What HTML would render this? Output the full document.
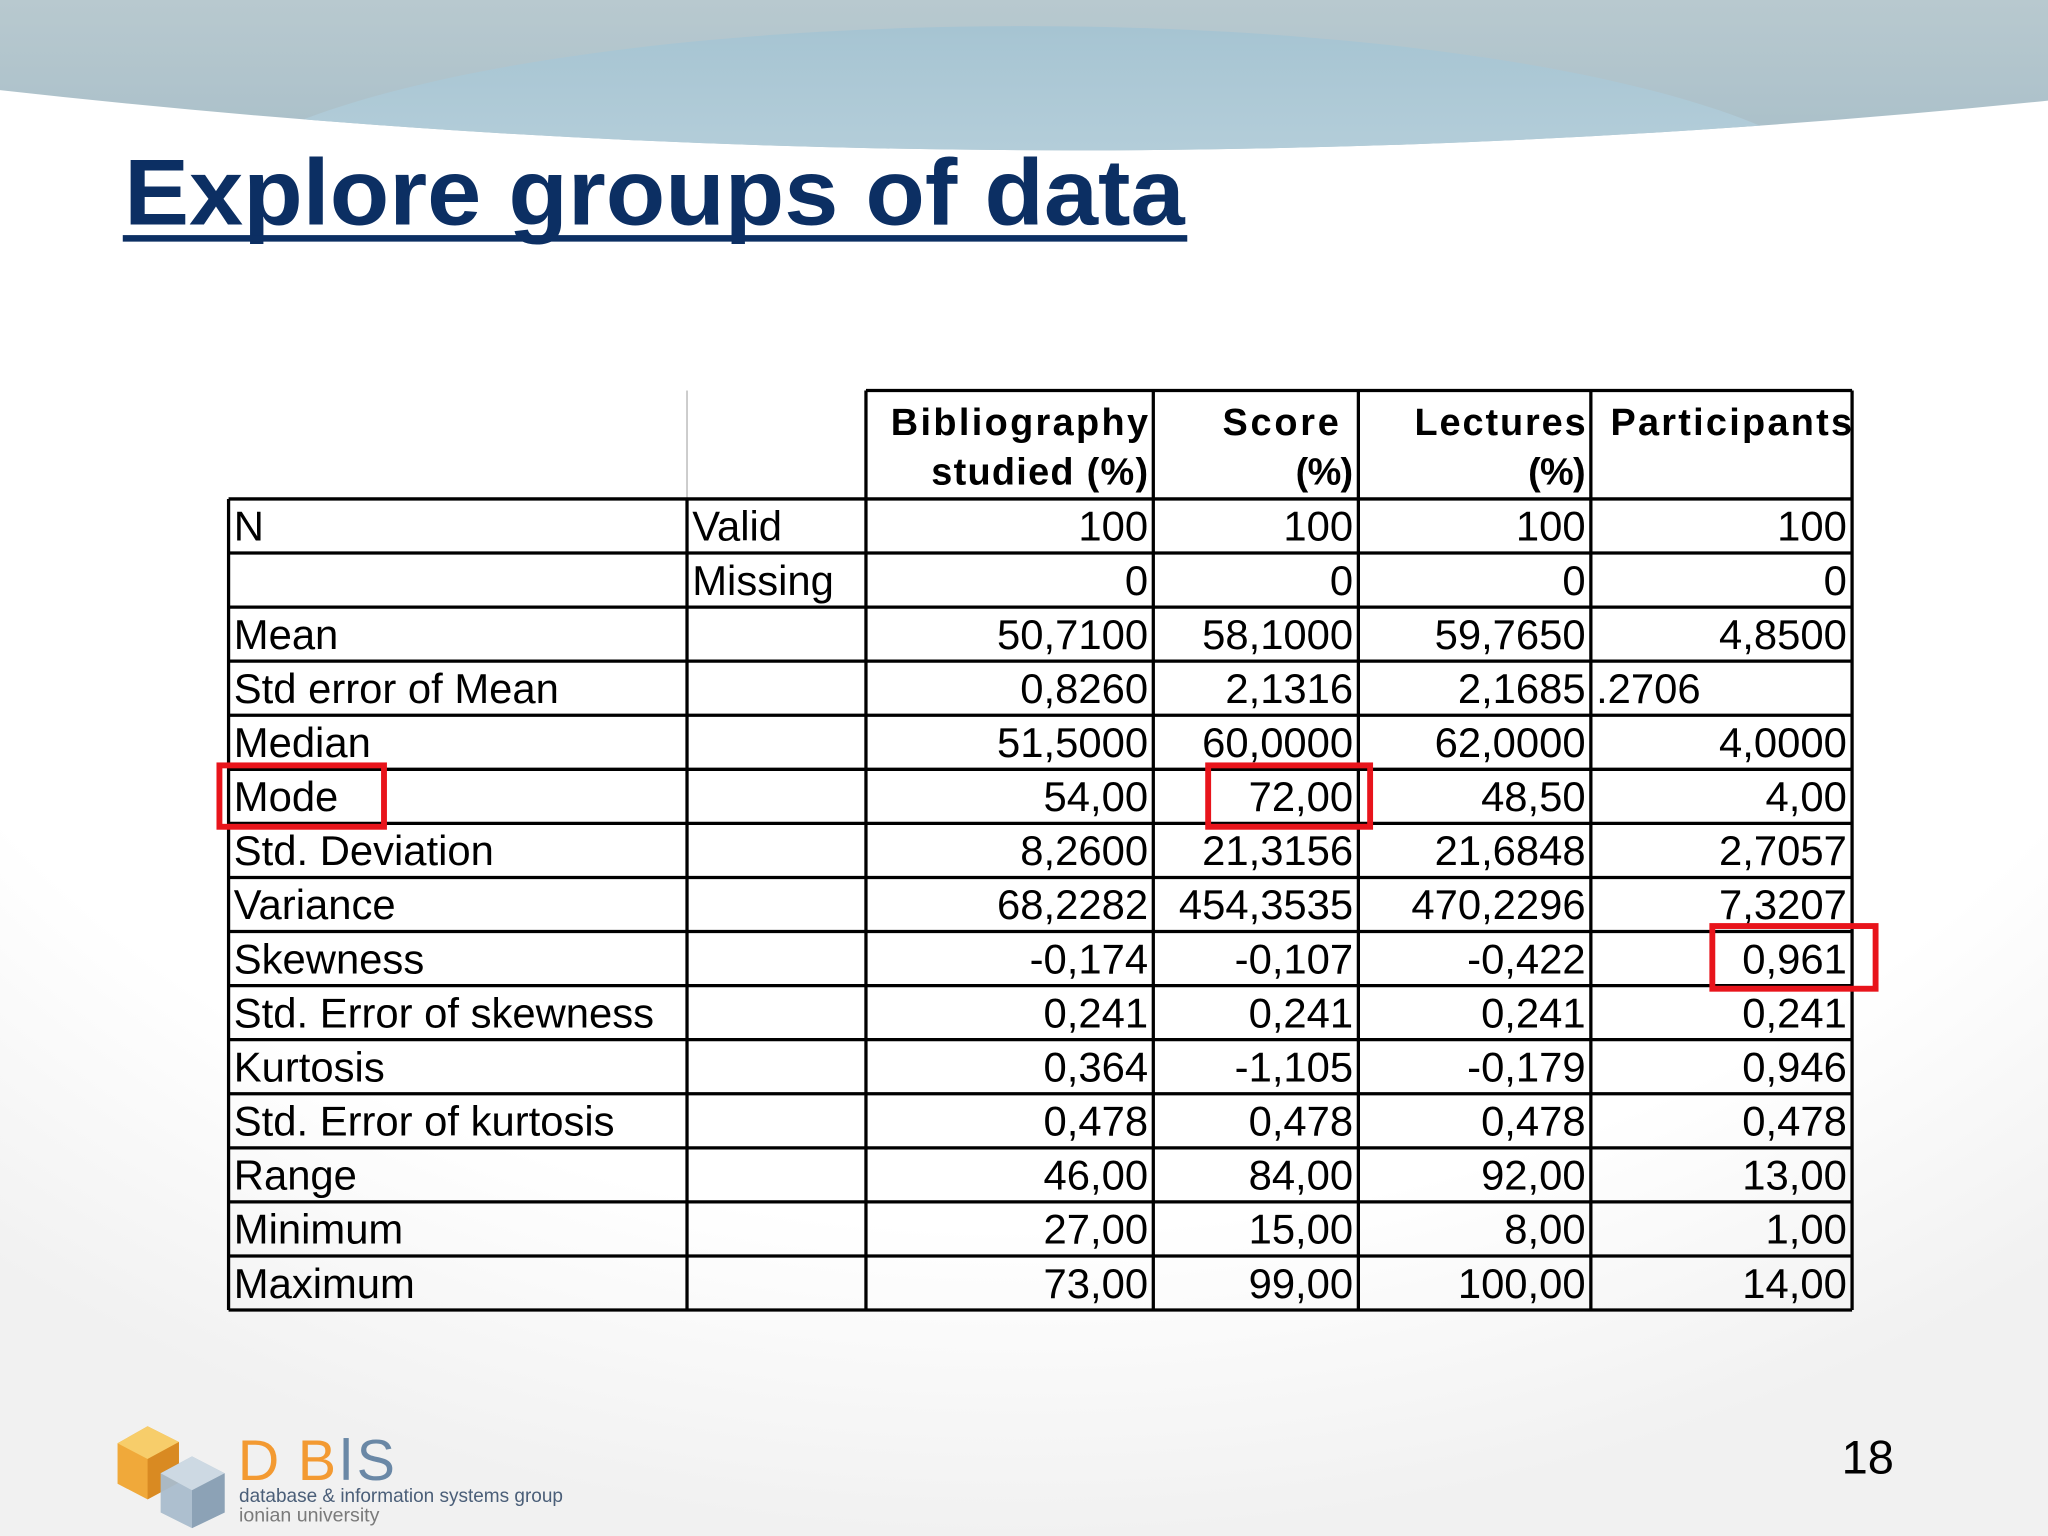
<!DOCTYPE html>
<html><head><meta charset="utf-8"><style>html,body{margin:0;padding:0;background:#fff}svg{display:block}</style></head>
<body>
<svg id="s" width="2048" height="1536" viewBox="0 0 1568 1176" xmlns="http://www.w3.org/2000/svg" font-family="Liberation Sans, Arial, sans-serif">
<defs>
<linearGradient id="g1" x1="0" y1="0" x2="0" y2="1"><stop offset="0" stop-color="#b8c9cf"/><stop offset="1" stop-color="#a9bfc9"/></linearGradient>
<linearGradient id="g2" x1="0" y1="0" x2="0" y2="1"><stop offset="0" stop-color="#a6c4d2"/><stop offset="1" stop-color="#cfe0e8"/></linearGradient>
<clipPath id="cp"><path d="M0,0 H1568 V77 Q784,157 0,69 Z"/></clipPath>
<radialGradient id="g3" cx="0.5" cy="0.2" r="0.8"><stop offset="0.75" stop-color="#ffffff"/><stop offset="1" stop-color="#f1f1f1"/></radialGradient>
</defs>
<rect width="1568" height="1176" fill="url(#g3)"/>
<g>
<path d="M0,0 H1568 V77 Q784,157 0,69 Z" fill="url(#g1)"/>
<ellipse cx="784" cy="165" rx="640" ry="145" fill="url(#g2)" clip-path="url(#cp)"/>
</g>
<text x="95" y="172" font-size="72" font-weight="bold" fill="#0c2f63" textLength="812" lengthAdjust="spacingAndGlyphs">Explore groups of data</text>
<rect x="94" y="180" width="815" height="5" fill="#0c2f63"/>
<g id="tbl"></g>
<g>
<polygon points="90,1105 113,1092 137,1104 137,1135 113,1148 90,1136" fill="#f0a93a"/>
<polygon points="90,1105 113,1117 137,1104 113,1092" fill="#f7cd6a"/>
<polygon points="113,1117 137,1104 137,1135 113,1148" fill="#d98a22"/>
<polygon points="123,1128 147,1115 172,1128 172,1158 147,1170 123,1158" fill="#a9bccc" opacity="0.95"/>
<polygon points="123,1128 147,1141 172,1128 147,1115" fill="#cdd9e3"/>
<polygon points="147,1141 172,1128 172,1158 147,1170" fill="#8ca2b6"/>
<text x="182" y="1133" font-size="44" fill="#f39a32">D</text>
<text x="228" y="1133" font-size="44" fill="#f39a32">B</text>
<rect x="263" y="1101" width="4" height="32" fill="#6a88a6"/>
<text x="273" y="1133" font-size="44" fill="#6a88a6">S</text>
<text x="183" y="1150" font-size="15" fill="#4a5e78" textLength="248" lengthAdjust="spacingAndGlyphs">database &amp; information systems group</text>
<text x="183" y="1165" font-size="15" fill="#7a7a7a">ionian university</text>
</g>
<text x="1450" y="1128" font-size="36" text-anchor="end" fill="#000">18</text>
</svg>
<script>
const rowLabels=["N","","Mean","Std error of Mean","Median","Mode","Std. Deviation","Variance","Skewness","Std. Error of skewness","Kurtosis","Std. Error of kurtosis","Range","Minimum","Maximum"];
const subLabels=["Valid","Missing","","","","","","","","","","","","",""];
const colBiblio=["100","0","50,7100","0,8260","51,5000","54,00","8,2600","68,2282","-0,174","0,241","0,364","0,478","46,00","27,00","73,00"];
const colScore=["100","0","58,1000","2,1316","60,0000","72,00","21,3156","454,3535","-0,107","0,241","-1,105","0,478","84,00","15,00","99,00"];
const colLect=["100","0","59,7650","2,1685","62,0000","48,50","21,6848","470,2296","-0,422","0,241","-0,179","0,478","92,00","8,00","100,00"];
const colPart=["100","0","4,8500",".2706","4,0000","4,00","2,7057","7,3207","0,961","0,241","0,946","0,478","13,00","1,00","14,00"];
const NS="http://www.w3.org/2000/svg";
const g=document.getElementById('tbl');
const xs=[175,526,663,883,1040,1218,1418];
const top0=382,rh=41.4,nR=rowLabels.length;
function mk(t,a,p){const e=document.createElementNS(NS,t);for(const k in a)e.setAttribute(k,a[k]);(p||g).appendChild(e);return e;}
function tx(x,y,s,anchor,bold,size,len){const e=mk('text',{x:x,y:y,'font-size':size||32,'text-anchor':anchor,fill:'#000'});if(bold)e.setAttribute('font-weight','bold');if(len){e.setAttribute('textLength',len);e.setAttribute('lengthAdjust','spacing');}e.textContent=s;return e;}
const bottom=top0+rh*nR;
mk('line',{x1:663,y1:299,x2:1418,y2:299,stroke:'#000','stroke-width':2.5});
mk('line',{x1:526,y1:299,x2:526,y2:top0,stroke:'#ccc','stroke-width':1.5});
[663,883,1040,1218,1418].forEach(x=>mk('line',{x1:x,y1:299,x2:x,y2:top0,stroke:'#000','stroke-width':2.5}));
for(let i=0;i<=nR;i++){const y=top0+rh*i;mk('line',{x1:175,y1:y,x2:1418,y2:y,stroke:'#000','stroke-width':2.5});}
xs.forEach(x=>mk('line',{x1:x,y1:top0,x2:x,y2:bottom,stroke:'#000','stroke-width':2.5}));
let h;
h=tx(879,333,"Bibliography","end",true,29,197);
tx(879,371,"studied (%)","end",true,29,166);
h=tx(1025,333,"Score","end",true,29,89);
tx(1036,371,"(%)","end",true,29,44);
h=tx(1214,333,"Lectures","end",true,29,131);
tx(1214,371,"(%)","end",true,29,44);
h=tx(1418,333,"Participants","end",true,29,185);
const cols=[[colBiblio,879],[colScore,1036],[colLect,1214],[colPart,1414]];
for(let i=0;i<nR;i++){
  const y=top0+rh*i+32;
  let e=tx(179,y,rowLabels[i],"start");
  
  
  if(subLabels[i]){e=tx(530,y,subLabels[i],"start");}
  cols.forEach(([arr,xr])=>{
    const v=arr[i];
    const left=v.startsWith('.');
    e=tx(left?1222:xr,y,v,left?"start":"end");
    
    
  });
}
function box(x,y,w,hh){const r=mk('rect',{x:x,y:y,width:w,height:hh,fill:'none',stroke:'#e8141b','stroke-width':4.5});}
box(168,586,126,47);
box(925,586,124,47);
box(1311,709,125,48);
</script>
</body></html>
